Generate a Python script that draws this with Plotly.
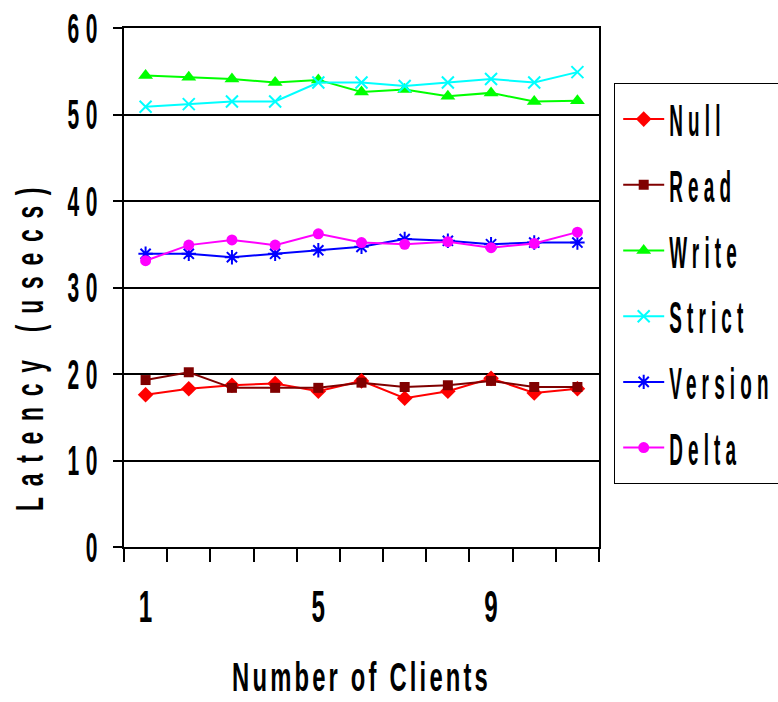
import plotly.graph_objects as go

# Number of concurrent clients
clients = [1, 2, 3, 4, 5, 6, 7, 8, 9, 10, 11]

# Measured latency per protocol (microseconds)
null_lat = [17.6, 18.3, 18.7, 18.9, 18.0, 19.2, 17.2, 18.0, 19.5, 17.8, 18.3]
read_lat = [19.3, 20.2, 18.4, 18.4, 18.4, 19.0, 18.5, 18.7, 19.2, 18.5, 18.5]
write_lat = [54.5, 54.3, 54.1, 53.7, 54.0, 52.6, 52.9, 52.1, 52.5, 51.5, 51.6]
strict_lat = [50.9, 51.2, 51.5, 51.5, 53.7, 53.7, 53.3, 53.7, 54.1, 53.7, 54.9]
version_lat = [33.9, 33.9, 33.5, 33.9, 34.3, 34.7, 35.6, 35.4, 35.0, 35.2, 35.2]
delta_lat = [33.1, 34.9, 35.5, 34.9, 36.2, 35.2, 35.0, 35.3, 34.6, 35.1, 36.4]

x_tick_vals = [1, 5, 9]
x_tick_text = ["1", "5", "9"]
y_tick_vals = [0, 10, 20, 30, 40, 50, 60]

FONT = "Liberation Sans, Arial, sans-serif"

series = [
    ("Null", null_lat, "#ff0000", dict(symbol="diamond", size=12)),
    ("Read", read_lat, "#800000", dict(symbol="square", size=10)),
    ("Write", write_lat, "#00ff00", dict(symbol="triangle-up", size=13)),
    ("Strict", strict_lat, "#00ffff", dict(symbol="x-thin", size=12,
                                           line=dict(width=2, color="#00ffff"))),
    ("Version", version_lat, "#0000ff", dict(symbol="asterisk", size=12,
                                             line=dict(width=2, color="#0000ff"))),
    ("Delta", delta_lat, "#ff00ff", dict(symbol="circle", size=11)),
]

fig = go.Figure()
for name, vals, color, marker in series:
    fig.add_trace(go.Scatter(
        x=clients, y=vals, name=name, mode="lines+markers",
        line=dict(color=color, width=2),
        marker=dict(color=color, **marker),
        legendgroup=name,
    ))

fig.update_layout(
    width=778, height=702,
    margin=dict(l=124, r=179, t=28, b=155, autoexpand=False),
    paper_bgcolor="white", plot_bgcolor="white",
    font=dict(family=FONT, color="black"),
    showlegend=True,
    legend=dict(
        x=1.032, xanchor="left", y=0.894, yanchor="top",
        bordercolor="black", borderwidth=1, bgcolor="white",
        font=dict(family=FONT, size=44, color="black", weight="bold"),
        tracegroupgap=5.5, itemwidth=41,
    ),
    xaxis=dict(
        range=[0.5, 11.5], tickmode="array", tickvals=x_tick_vals,
        ticktext=x_tick_text, ticks="", showgrid=False, zeroline=False,
        showline=True, linecolor="black", linewidth=2, mirror=True,
        tickfont=dict(family=FONT, size=44, weight="bold"),
        ticklabelstandoff=20,
        minor=dict(tick0=0.5, dtick=1, ticks="outside", ticklen=13,
                   tickwidth=1.5, tickcolor="black", showgrid=False),
    ),
    yaxis=dict(
        range=[0, 60], tickmode="array", tickvals=y_tick_vals,
        ticks="outside", ticklen=9, tickwidth=1.5, tickcolor="black",
        showgrid=True, gridcolor="black", gridwidth=2, zeroline=False,
        showline=True, linecolor="black", linewidth=1.5, mirror=True,
        tickfont=dict(family=FONT, size=42, weight="bold"),
        ticklabelstandoff=1,
    ),
    annotations=[
        dict(text="Number of Clients", xref="paper", yref="paper",
             x=0.5, y=-0.250, xanchor="center", yanchor="middle",
             showarrow=False, font=dict(family=FONT, size=41, weight="bold")),
        dict(text="Latency (usecs)", xref="paper", yref="paper",
             x=-0.198, y=0.392, xanchor="center", yanchor="middle",
             textangle=-90, showarrow=False,
             font=dict(family=FONT, size=38, weight="bold")),
    ],
)

# Condensed, letter-spaced lettering for all chart text, plus legend spacing
squeeze_js = """
var gd = document.getElementById('{plot_id}');
function squeeze(nodes, sx, ls) {
  nodes.forEach(function (t) {
    t.style.letterSpacing = ls + 'px';
    var b = t.getBBox();
    var a = t.getAttribute('text-anchor') || 'start';
    var cx = a === 'end' ? b.x + b.width : (a === 'middle' ? b.x + b.width / 2 : b.x);
    var tr = t.getAttribute('transform') || '';
    t.setAttribute('transform', tr + ' translate(' + cx + ',0) scale(' + sx +
                   ',1) translate(' + (-cx) + ',0)');
  });
}
squeeze(gd.querySelectorAll('.legendtext'), 0.43, 12);
squeeze(gd.querySelectorAll('.ytick text'), 0.5, 13);
squeeze(gd.querySelectorAll('.xtick text'), 0.55, 0);
var ann = gd.querySelectorAll('.annotation-text');
squeeze([ann[0]], 0.58, 5.5);
squeeze([ann[1]], 0.6, 18);
gd.querySelectorAll('.legend .traces').forEach(function (g) {
  var tr = g.getAttribute('transform') || '';
  g.setAttribute('transform', tr + ' translate(3,0)');
});
gd.querySelectorAll('.legend rect.bg').forEach(function (r) {
  var w = parseFloat(r.getAttribute('width')) || 0;
  r.setAttribute('width', w + 40);
});
"""

fig.write_html("out.html", post_script=squeeze_js)
